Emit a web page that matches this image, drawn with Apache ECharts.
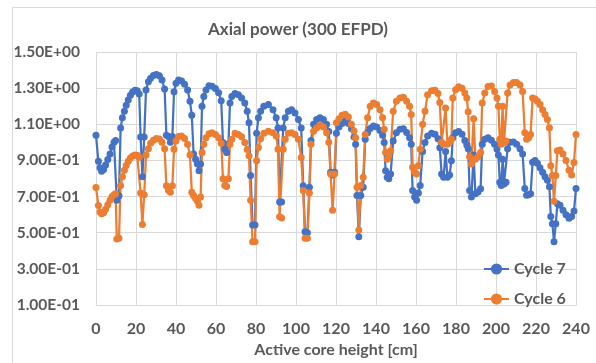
<!DOCTYPE html>
<html>
<head>
<meta charset="utf-8">
<script src="https://cdn.jsdelivr.net/npm/echarts@6.0.0/dist/echarts.min.js"></script>
<style>
  html, body { margin: 0; padding: 0; background: #fff; }
  #chart { width: 596px; height: 363px; }
</style>
</head>
<body>
<div id="chart"></div>
<script>
// active core height [cm], shared by both cycles
const heights = [
  0, 1.2, 2, 2.8, 3.8, 4.8, 5.9, 7, 8, 9, 9.8,
  10.4, 11.5,
  12.3, 13.2, 14.2, 15.1, 16.1, 17.2, 18.3, 19.5, 20.6, 21.6,
  22.3, 23.2, 24.1,
  25, 26.2, 27.3, 28.7, 30.2, 31.7, 33, 34.3,
  35.2, 36.2, 37.2, 38.2,
  39, 40, 41.3, 42.8, 44.3, 45.8, 47,
  47.9, 48.8, 49.8, 50.7, 51.5, 52.3,
  53, 53.9, 55, 56.5, 58, 59.7, 61.3, 62.6,
  63.5, 64.4, 65.3, 66.2,
  67, 67.9, 69.5, 71.2, 72.8, 74.4, 75.6, 76.5,
  77.3, 78.3, 79.5,
  80.3, 81.2, 82.3, 83.9, 86.2, 88.5, 90.1, 91,
  91.8, 92.8,
  93.6, 94.6, 96.2, 97.8, 99.5, 101.2, 102.6,
  103.6, 104.5, 105.7, 106.7,
  107.5, 108.8, 110.3, 112, 113.7, 115.3, 116.4,
  117.3, 118.3, 119.3,
  120.2, 121.5, 123, 124.6, 126.2, 127.7, 129,
  129.8, 130.5, 131.4, 132.4, 133.6,
  134.6, 135.8, 137.1, 138.7, 140.3, 142, 143.3, 144.1,
  144.8, 145.6, 146.4, 147.3,
  148.6, 150.2, 152, 153.7, 155.3, 156.8, 157.6,
  158.3, 159.3, 160.3, 161.2, 162.1,
  163.3, 164.5, 165.8, 167.8, 169.5, 171, 171.9,
  172.8, 173.8, 174.8, 175.7, 176.8, 177.7,
  178.4, 179.8, 181.3, 183, 184.4, 185.4, 186.1,
  186.8, 187.7, 188.8, 189.7, 191, 192.3,
  193.1, 194.4, 196, 197.7, 199.3, 200.5, 201.2,
  201.9, 202.6, 203.3, 204, 205,
  205.8, 207, 208.7, 210.3, 212, 213.3,
  214.4, 215.3, 216.3, 217.3,
  218.3, 219.5, 220.7, 222, 223.3, 224.5, 225.7, 226.7, 227.4, 228.2,
  229, 229.9, 230.7, 232, 233.5, 235, 236.5, 237.8, 239, 240
];

const cycle7 = [
  1.04, 0.895, 0.86, 0.84, 0.85, 0.875, 0.905, 0.935, 0.975, 1.0, 1.01,
  0.68, 0.705,
  1.08, 1.136, 1.172, 1.205, 1.235, 1.26, 1.278, 1.288, 1.285, 1.268,
  1.03, 0.81, 1.03,
  1.29, 1.335, 1.355, 1.37, 1.375, 1.368, 1.345, 1.295,
  1.04, 1.032, 1.0, 1.033,
  1.28, 1.327, 1.345, 1.34, 1.322, 1.29, 1.227,
  1.15, 0.935, 0.907, 0.88, 0.843, 0.88,
  1.2, 1.254, 1.29, 1.313, 1.31, 1.298, 1.275, 1.23,
  0.999, 0.963, 0.944, 0.99,
  1.218, 1.254, 1.27, 1.263, 1.245, 1.218, 1.172, 1.108,
  0.816, 0.542, 0.542,
  1.05, 1.136, 1.172, 1.2, 1.209, 1.181, 1.136, 1.08,
  0.67, 0.67,
  1.08, 1.136, 1.172, 1.18, 1.163, 1.126, 1.08,
  0.76, 0.505, 0.5, 0.752,
  1.01, 1.1, 1.126, 1.136, 1.126, 1.1, 1.06,
  0.834, 0.82, 0.834,
  1.05, 1.085, 1.105, 1.12, 1.105, 1.075, 1.03,
  0.99, 0.706, 0.478, 0.706, 0.752,
  1.017, 1.053, 1.077, 1.09, 1.085, 1.065, 1.04, 0.999,
  0.843, 0.807, 0.798, 0.825,
  1.008, 1.053, 1.072, 1.075, 1.055, 1.026, 0.99,
  0.734, 0.697, 0.679, 0.72, 0.761,
  0.95, 0.999, 1.035, 1.05, 1.045, 1.02, 0.97,
  0.825, 0.807, 0.95, 0.807, 0.82, 0.898,
  1.026, 1.053, 1.06, 1.045, 1.01, 0.985, 0.965,
  0.734, 0.697, 0.93, 0.715, 0.725, 0.743,
  0.99, 1.017, 1.026, 1.011, 0.99, 0.962, 0.93,
  0.779, 0.761, 0.907, 0.77, 0.779,
  0.965, 1.0, 1.002, 0.99, 0.965, 0.935,
  0.744, 0.707, 0.71, 0.716,
  0.89, 0.9, 0.885, 0.86, 0.835, 0.81, 0.79, 0.755, 0.59, 0.55,
  0.45, 0.55, 0.66, 0.652, 0.624, 0.6, 0.58, 0.59, 0.62, 0.745
];

const cycle6 = [
  0.75, 0.65, 0.615, 0.605, 0.61, 0.63, 0.655, 0.68, 0.70, 0.71, 0.715,
  0.465, 0.47,
  0.761, 0.81, 0.845, 0.872, 0.895, 0.913, 0.925, 0.93, 0.928, 0.918,
  0.72, 0.545, 0.71,
  0.93, 0.965, 0.995, 1.012, 1.022, 1.018, 1.0, 0.965,
  0.76, 0.735, 0.724, 0.76,
  0.962, 1.008, 1.033, 1.035, 1.022, 0.99, 0.93,
  0.724, 0.706, 0.69, 0.675, 0.652, 0.697,
  0.944, 0.99, 1.026, 1.048, 1.053, 1.044, 1.025, 0.995,
  0.798, 0.761, 0.756, 0.798,
  0.99, 1.017, 1.05, 1.044, 1.031, 0.999, 0.96, 0.926,
  0.679, 0.45, 0.45,
  0.898, 0.971, 1.02, 1.05, 1.062, 1.053, 1.035, 0.962,
  0.588, 0.582,
  0.962, 1.017, 1.05, 1.053, 1.044, 1.017, 0.916,
  0.734, 0.469, 0.469, 0.72,
  0.99, 1.062, 1.08, 1.095, 1.085, 1.053, 1.0,
  0.825, 0.624, 0.825,
  1.108, 1.13, 1.15, 1.155, 1.14, 1.1, 1.063,
  1.026, 0.752, 0.515, 0.761, 0.807,
  1.044, 1.136, 1.2, 1.218, 1.209, 1.181, 1.136, 1.072,
  0.944, 0.907, 0.926, 0.953,
  1.172, 1.227, 1.245, 1.25, 1.227, 1.2, 1.154,
  0.862, 0.834, 0.825, 0.871, 0.962,
  1.1, 1.172, 1.263, 1.285, 1.289, 1.27, 1.22,
  1.0, 0.99, 1.19, 0.99, 1.0, 1.017,
  1.245, 1.291, 1.308, 1.3, 1.273, 1.245, 1.17,
  0.92, 0.88, 1.13, 0.907, 0.92, 0.944,
  1.218, 1.273, 1.309, 1.312, 1.282, 1.245, 1.2,
  1.017, 0.99, 1.2, 0.999, 1.008,
  1.273, 1.318, 1.331, 1.331, 1.318, 1.282,
  1.053, 1.017, 1.026, 1.044,
  1.245, 1.24, 1.227, 1.209, 1.181, 1.154, 1.126, 1.081, 0.871, 0.816,
  0.674, 0.816, 0.953, 0.958, 0.935, 0.9, 0.845, 0.82, 0.889, 1.044
];

const seriesNames = ["Cycle 7", "Cycle 6"];
const seriesColors = ["#4472C4", "#ED7D31"];

const textColor = "#595959";
const fontFamily = "Lato, 'Open Sans', sans-serif";

// 1.5 -> "1.50E+00"
const sci = (v) => {
  const [m, e] = Number(v).toExponential(2).split("e");
  const n = parseInt(e, 10);
  return m + "E" + (n < 0 ? "-" : "+") + String(Math.abs(n)).padStart(2, "0");
};

const zip = (ys) => heights.map((x, i) => [x, ys[i]]);

const chart = echarts.init(document.getElementById("chart"), null, { renderer: "canvas" });

chart.setOption({
  animation: false,
  backgroundColor: "#ffffff",
  textStyle: { fontFamily },
  graphic: [{
    type: "rect",
    shape: { x: 12.5, y: 7.5, width: 620, height: 400 },
    style: { fill: "none", stroke: "#d9d9d9", lineWidth: 1 },
    silent: true
  }],
  title: {
    text: "Axial power (300 EFPD)",
    left: "center",
    top: 16,
    textStyle: { fontFamily, fontSize: 17, fontWeight: "bold", color: textColor }
  },
  legend: {
    orient: "vertical",
    left: 478,
    top: 256,
    itemWidth: 25,
    itemHeight: 14,
    itemGap: 14,
    data: seriesNames,
    textStyle: { fontFamily, fontSize: 16, fontWeight: "bold", color: textColor }
  },
  grid: { left: 96, right: 20, top: 52, bottom: 56 },
  xAxis: {
    type: "value",
    min: 0,
    max: 240,
    interval: 20,
    name: "Active core height [cm]",
    nameLocation: "middle",
    nameGap: 37,
    nameTextStyle: { fontFamily, fontSize: 16, fontWeight: "bold", color: textColor },
    axisLine: { show: true, lineStyle: { color: "#d9d9d9" } },
    axisTick: { show: false },
    axisLabel: { margin: 16, fontFamily, fontSize: 16, fontWeight: "bold", color: textColor },
    splitLine: { show: true, lineStyle: { color: "#d9d9d9" } }
  },
  yAxis: {
    type: "value",
    min: 0.1,
    max: 1.5,
    interval: 0.2,
    axisLine: { show: false },
    axisTick: { show: false },
    axisLabel: { margin: 16, fontFamily, fontSize: 15.5, fontWeight: "bold", color: textColor, formatter: sci },
    splitLine: { show: true, lineStyle: { color: "#d9d9d9" } }
  },
  series: [cycle7, cycle6].map((ys, i) => ({
    name: seriesNames[i],
    type: "line",
    data: zip(ys),
    symbol: "circle",
    symbolSize: 7,
    showAllSymbol: true,
    itemStyle: { color: seriesColors[i] },
    lineStyle: { color: seriesColors[i], width: 2.25 }
  }))
});
</script>
</body>
</html>
